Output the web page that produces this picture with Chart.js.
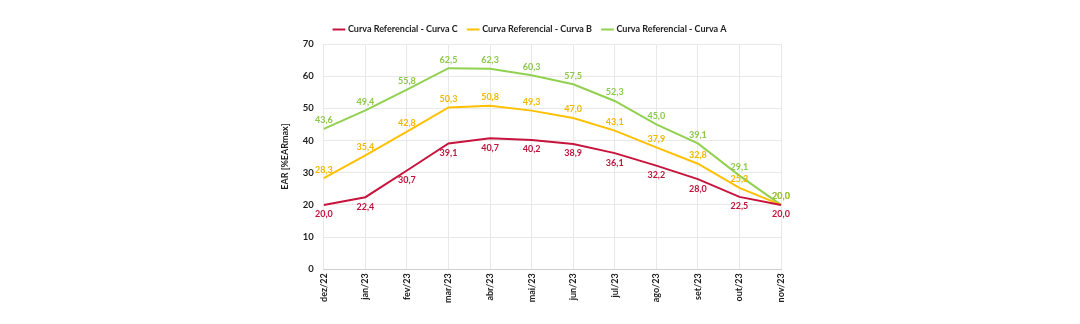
<!DOCTYPE html>
<html>
<head>
<meta charset="utf-8">
<script src="https://cdn.jsdelivr.net/npm/chart.js@4/dist/chart.umd.min.js"></script>
<style>
  html, body { margin: 0; padding: 0; background: #fff; }
  #wrap { width: 1080px; height: 324px; }
</style>
</head>
<body>
<div id="wrap"><canvas id="chart"></canvas></div>
<script>
// dados
const meses = ['dez/22','jan/23','fev/23','mar/23','abr/23','mai/23','jun/23','jul/23','ago/23','set/23','out/23','nov/23'];
const curvaC = [20.0, 22.4, 30.7, 39.1, 40.7, 40.2, 38.9, 36.1, 32.2, 28.0, 22.5, 20.0];
const curvaB = [28.3, 35.4, 42.8, 50.3, 50.8, 49.3, 47.0, 43.1, 37.9, 32.8, 25.3, 20.0];
const curvaA = [43.6, 49.4, 55.8, 62.5, 62.3, 60.3, 57.5, 52.3, 45.0, 39.1, 29.1, 20.0];

const fonte = "Lato, 'Open Sans', sans-serif";

// rótulos dos valores (sem plugin externo)
const rotulos = {
  id: 'rotulos',
  afterDatasetsDraw(chart) {
    const ctx = chart.ctx;
    ctx.save();
    ctx.font = 'bold 9px ' + fonte;
    ctx.textAlign = 'center';
    chart.data.datasets.forEach((ds, i) => {
      const meta = chart.getDatasetMeta(i);
      ctx.fillStyle = ds.labelColor;
      meta.data.forEach((pt, j) => {
        const txt = ds.data[j].toFixed(1).replace('.', ',');
        if (ds.labelPos === 'below') {
          ctx.textBaseline = 'top';
          ctx.fillText(txt, pt.x, pt.y + 5);
        } else {
          ctx.textBaseline = 'bottom';
          ctx.fillText(txt, pt.x, pt.y - 4);
        }
      });
    });
    ctx.restore();
  }
};

new Chart(document.getElementById('chart').getContext('2d'), {
  type: 'line',
  data: {
    labels: meses,
    datasets: [
      { label: 'Curva Referencial - Curva C', data: curvaC, borderColor: '#C8143C', backgroundColor: '#C8143C', labelColor: '#C0143C', labelPos: 'below' },
      { label: 'Curva Referencial - Curva B', data: curvaB, borderColor: '#FFC000', backgroundColor: '#FFC000', labelColor: '#F2B800', labelPos: 'above' },
      { label: 'Curva Referencial - Curva A', data: curvaA, borderColor: '#92D050', backgroundColor: '#92D050', labelColor: '#8CC84B', labelPos: 'above' }
    ]
  },
  options: {
    responsive: true,
    maintainAspectRatio: false,
    animation: false,
    elements: {
      line: { borderWidth: 2, tension: 0 },
      point: { radius: 0 }
    },
    layout: { padding: { left: 280, right: 299, top: 14, bottom: 17 } },
    plugins: {
      legend: {
        position: 'top',
        labels: {
          usePointStyle: true,
          pointStyle: 'line',
          boxWidth: 12,
          padding: 11,
          color: '#222',
          font: { family: fonte, size: 9, weight: 'bold' },
          // traço colorido e mais grosso na legenda
          generateLabels(chart) {
            const itens = Chart.defaults.plugins.legend.labels.generateLabels(chart);
            itens.forEach(it => {
              it.lineWidth = 2;
              it.strokeStyle = chart.data.datasets[it.datasetIndex].borderColor;
            });
            return itens;
          }
        }
      },
      tooltip: { enabled: false }
    },
    scales: {
      x: {
        grid: { color: '#e8e8e8', drawTicks: false },
        border: { color: '#d0d0d0' },
        ticks: {
          minRotation: 90,
          maxRotation: 90,
          padding: 4,
          color: '#222',
          font: { family: fonte, size: 9, weight: 'bold' }
        }
      },
      y: {
        min: 0,
        max: 70,
        grid: { color: '#e8e8e8', drawTicks: false },
        border: { display: false },
        ticks: {
          stepSize: 10,
          padding: 10,
          color: '#222',
          font: { family: fonte, size: 9.5, weight: 'bold' }
        },
        title: {
          display: true,
          text: 'EAR [%EARmax]',
          padding: { top: 0, bottom: 2 },
          color: '#222',
          font: { family: fonte, size: 9, weight: 'bold' }
        }
      }
    }
  },
  plugins: [rotulos]
});
</script>
</body>
</html>
